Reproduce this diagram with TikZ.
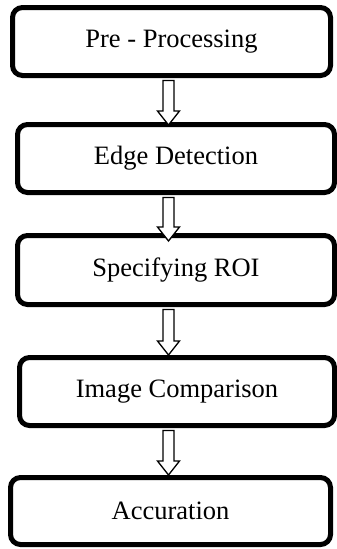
\documentclass[tikz,border=0pt]{standalone}
\usepackage{fontspec}
\setmainfont{Liberation Serif}
\usetikzlibrary{calc}
\tikzset{
  stage/.style={draw=black, line width=5pt, rounded corners=10pt, fill=white,
    inner sep=0pt, minimum height=68pt,
    font=\fontsize{26.5}{30}\selectfont, align=center},
  blockarrow/.style={draw=black, fill=white, line width=1.3pt, line join=miter}
}
\newcommand{\blockarr}[3]{%
  \draw[blockarrow]
    ($(ax |- #1.south)+(-5.5pt,-2.5pt)$) --
    ($(ax |- #2.north)+(-5.5pt,#3+14pt)$) --
    ($(ax |- #2.north)+(-11pt,#3+14pt)$) --
    ($(ax |- #2.north)+(0pt,#3)$) --
    ($(ax |- #2.north)+(11pt,#3+14pt)$) --
    ($(ax |- #2.north)+(5.5pt,#3+14pt)$) --
    ($(ax |- #1.south)+(5.5pt,-2.5pt)$) -- cycle;}
\begin{document}
\begin{tikzpicture}
\useasboundingbox (0pt,0pt) rectangle (337pt,-549pt);
\coordinate (ax) at (168.5pt,0pt);
\node[stage, minimum width=318pt] (pre) at (171.5pt,-41.5pt) {Pre - Processing};
\node[stage, minimum width=317pt] (edge) at (176pt,-158.5pt) {Edge Detection};
\node[stage, minimum width=317pt, minimum height=69pt] (roi) at (176pt,-270pt) {Specifying ROI};
\node[stage, minimum width=315pt] (cmp) at (177pt,-391.5pt) {Image Comparison};
\node[stage, minimum width=320pt, minimum height=67pt] (acc) at (170.5pt,-511pt) {Accuration};
\blockarr{pre}{edge}{-3pt}
\blockarr{edge}{roi}{-8pt}
\blockarr{roi}{cmp}{0pt}
\blockarr{cmp}{acc}{0pt}
\end{tikzpicture}
\end{document}
